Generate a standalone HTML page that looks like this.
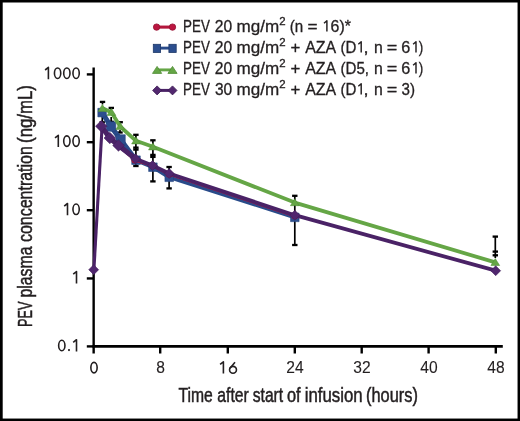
<!DOCTYPE html>
<html><head><meta charset="utf-8"><style>
html,body{margin:0;padding:0;background:#fff;width:520px;height:421px;overflow:hidden}
svg{display:block;will-change:transform}
text{font-family:"Liberation Sans",sans-serif;fill:#231f20;stroke:#231f20;stroke-width:0.3px}
.t{stroke-width:0.5px}
.k{stroke-width:0.1px}
</style></head><body>
<svg width="520" height="421" viewBox="0 0 520 421">
<rect x="0" y="0" width="520" height="421" fill="#fff"/>
<!-- border -->
<rect x="0" y="0" width="520" height="2.5" fill="#000"/>
<rect x="0" y="0" width="2.7" height="421" fill="#000"/>
<rect x="517.55" y="0" width="2.45" height="421" fill="#000"/>
<rect x="0" y="418.55" width="520" height="2.45" fill="#000"/>

<!-- axes -->
<g stroke="#000" stroke-width="2.4" fill="none" stroke-linecap="butt">
<line x1="93.65" y1="67.4" x2="93.65" y2="353.5"/>
<line x1="92.5" y1="346.4" x2="502.8" y2="346.4" stroke-width="2.7"/>
<line x1="86.8" y1="74.4" x2="93.65" y2="74.4"/>
<line x1="86.8" y1="142.2" x2="93.65" y2="142.2"/>
<line x1="86.8" y1="210.2" x2="93.65" y2="210.2"/>
<line x1="86.8" y1="278.45" x2="93.65" y2="278.45"/>
<line x1="86.8" y1="346.4" x2="93.65" y2="346.4"/>
<line x1="160.2" y1="346.4" x2="160.2" y2="353.5"/>
<line x1="227.8" y1="346.4" x2="227.8" y2="353.5"/>
<line x1="294.8" y1="346.4" x2="294.8" y2="353.5"/>
<line x1="361.7" y1="346.4" x2="361.7" y2="353.5"/>
<line x1="428.6" y1="346.4" x2="428.6" y2="353.5"/>
<line x1="495.8" y1="346.4" x2="495.8" y2="353.5"/>
</g>

<!-- y tick labels -->
<g fill="none" stroke="#231f20" stroke-width="1.6" stroke-linejoin="round">
<path d="M48.40,79.20V67.40L45.10,70.00"/>
<ellipse cx="57.60" cy="73.20" rx="3.15" ry="5.25"/>
<ellipse cx="66.85" cy="73.20" rx="3.15" ry="5.25"/>
<ellipse cx="76.10" cy="73.20" rx="3.15" ry="5.25"/>
<path d="M58.30,147.10V135.30L55.00,137.90"/>
<ellipse cx="66.85" cy="141.10" rx="3.15" ry="5.25"/>
<ellipse cx="76.10" cy="141.10" rx="3.15" ry="5.25"/>
<path d="M67.50,215.30V203.50L64.20,206.10"/>
<ellipse cx="76.10" cy="209.30" rx="3.15" ry="5.25"/>
<path d="M76.50,283.40V271.60L73.20,274.20"/>
<ellipse cx="61.80" cy="345.50" rx="3.15" ry="5.25"/>
<path d="M76.50,351.50V339.70L73.20,342.30"/>
</g>
<circle cx="69" cy="350.1" r="1.05" fill="#231f20"/>
<!-- x tick labels -->
<g fill="none" stroke="#231f20" stroke-width="1.6" stroke-linejoin="round">
<ellipse cx="94.00" cy="367.60" rx="3.15" ry="5.25"/>
<path d="M223.40,373.60V361.80L220.10,364.40"/>
<circle cx="233.0" cy="369.80" r="3.45"/>
<path d="M235.0,362.20L230.0,368.20"/>
</g>
<g font-size="15.6" text-anchor="middle">
<text class="k" x="160.7" y="373.3">8</text>
<text class="k" x="295" y="373.3">24</text>
<text class="k" x="362" y="373.3">32</text>
<text class="k" x="429" y="373.3">40</text>
<text class="k" x="496" y="373.3">48</text>
</g>

<!-- axis titles -->
<!-- xtitle -->
<text class="t" x="178.54" y="401.6" font-size="20" textLength="34.33" lengthAdjust="spacingAndGlyphs">Time</text>
<text class="t" x="217.35" y="401.6" font-size="20" textLength="31.45" lengthAdjust="spacingAndGlyphs">after</text>
<text class="t" x="252.68" y="401.6" font-size="20" textLength="30.52" lengthAdjust="spacingAndGlyphs">start</text>
<text class="t" x="286.94" y="401.6" font-size="20" textLength="13.65" lengthAdjust="spacingAndGlyphs">of</text>
<text class="t" x="304.74" y="401.6" font-size="20" textLength="57.97" lengthAdjust="spacingAndGlyphs">infusion</text>
<text class="t" x="366.00" y="401.6" font-size="20" textLength="51.86" lengthAdjust="spacingAndGlyphs">(hours)</text>
<!-- /xtitle -->
<!-- ytitle -->
<text class="t" transform="translate(32,326.92) rotate(-90)" font-size="20" textLength="25.53" lengthAdjust="spacingAndGlyphs">PEV</text>
<text class="t" transform="translate(32,297.55) rotate(-90)" font-size="20" textLength="51.05" lengthAdjust="spacingAndGlyphs">plasma</text>
<text class="t" transform="translate(32,242.04) rotate(-90)" font-size="20" textLength="95.88" lengthAdjust="spacingAndGlyphs">concentration</text>
<text class="t" transform="translate(32,142.91) rotate(-90)" font-size="20" textLength="57.72" lengthAdjust="spacingAndGlyphs">(ng/mL)</text>
<!-- /ytitle -->

<!-- legend -->
<g font-size="15.8">
<text x="183.08" y="31.50" textLength="26.83" lengthAdjust="spacingAndGlyphs">PEV</text>
<text x="214.81" y="31.50" textLength="17.36" lengthAdjust="spacingAndGlyphs">20</text>
<text x="236.62" y="31.50" textLength="42.66" lengthAdjust="spacingAndGlyphs">mg/m</text>
<text x="279.18" y="25.30" font-size="11" textLength="6.36" lengthAdjust="spacingAndGlyphs">2</text>
<text x="289.74" y="31.50" textLength="13.47" lengthAdjust="spacingAndGlyphs">(n</text>
<text x="307.44" y="31.50" textLength="10.05" lengthAdjust="spacingAndGlyphs">=</text>
<text x="330.60" y="31.50" textLength="20.30" lengthAdjust="spacingAndGlyphs">6)*</text>
<text x="183.08" y="52.60" textLength="26.83" lengthAdjust="spacingAndGlyphs">PEV</text>
<text x="214.81" y="52.60" textLength="17.36" lengthAdjust="spacingAndGlyphs">20</text>
<text x="236.62" y="52.60" textLength="42.66" lengthAdjust="spacingAndGlyphs">mg/m</text>
<text x="279.18" y="46.40" font-size="11" textLength="6.36" lengthAdjust="spacingAndGlyphs">2</text>
<text x="290.56" y="52.60" textLength="9.82" lengthAdjust="spacingAndGlyphs">+</text>
<text x="305.20" y="52.60" textLength="31.03" lengthAdjust="spacingAndGlyphs">AZA</text>
<text x="340.44" y="52.60" textLength="15.90" lengthAdjust="spacingAndGlyphs">(D</text>
<text x="363.62" y="52.60" textLength="5.05" lengthAdjust="spacingAndGlyphs">,</text>
<text x="374.00" y="52.60" textLength="8.79" lengthAdjust="spacingAndGlyphs">n</text>
<text x="386.70" y="52.60" textLength="10.53" lengthAdjust="spacingAndGlyphs">=</text>
<text x="401.28" y="52.60" textLength="9.03" lengthAdjust="spacingAndGlyphs">6</text>
<text x="418.81" y="52.60" textLength="4.51" lengthAdjust="spacingAndGlyphs">)</text>
<text x="183.08" y="73.60" textLength="26.83" lengthAdjust="spacingAndGlyphs">PEV</text>
<text x="214.81" y="73.60" textLength="17.36" lengthAdjust="spacingAndGlyphs">20</text>
<text x="236.62" y="73.60" textLength="42.66" lengthAdjust="spacingAndGlyphs">mg/m</text>
<text x="279.18" y="67.40" font-size="11" textLength="6.36" lengthAdjust="spacingAndGlyphs">2</text>
<text x="290.56" y="73.60" textLength="9.82" lengthAdjust="spacingAndGlyphs">+</text>
<text x="305.20" y="73.60" textLength="31.03" lengthAdjust="spacingAndGlyphs">AZA</text>
<text x="340.44" y="73.60" textLength="28.55" lengthAdjust="spacingAndGlyphs">(D5,</text>
<text x="374.00" y="73.60" textLength="8.79" lengthAdjust="spacingAndGlyphs">n</text>
<text x="386.70" y="73.60" textLength="10.53" lengthAdjust="spacingAndGlyphs">=</text>
<text x="401.28" y="73.60" textLength="9.03" lengthAdjust="spacingAndGlyphs">6</text>
<text x="418.81" y="73.60" textLength="4.51" lengthAdjust="spacingAndGlyphs">)</text>
<text x="183.08" y="94.60" textLength="26.83" lengthAdjust="spacingAndGlyphs">PEV</text>
<text x="214.91" y="94.60" textLength="17.25" lengthAdjust="spacingAndGlyphs">30</text>
<text x="236.62" y="94.60" textLength="42.66" lengthAdjust="spacingAndGlyphs">mg/m</text>
<text x="279.18" y="88.40" font-size="11" textLength="6.36" lengthAdjust="spacingAndGlyphs">2</text>
<text x="290.56" y="94.60" textLength="9.82" lengthAdjust="spacingAndGlyphs">+</text>
<text x="305.20" y="94.60" textLength="31.03" lengthAdjust="spacingAndGlyphs">AZA</text>
<text x="340.44" y="94.60" textLength="15.90" lengthAdjust="spacingAndGlyphs">(D</text>
<text x="363.62" y="94.60" textLength="5.05" lengthAdjust="spacingAndGlyphs">,</text>
<text x="374.00" y="94.60" textLength="8.79" lengthAdjust="spacingAndGlyphs">n</text>
<text x="386.70" y="94.60" textLength="10.53" lengthAdjust="spacingAndGlyphs">=</text>
<text x="401.52" y="94.60" textLength="13.49" lengthAdjust="spacingAndGlyphs">3)</text>
</g>
<path fill="none" stroke="#231f20" stroke-width="1.45" stroke-linejoin="round" d="M326.90,31.50V20.70L324.00,23.20 M361.20,52.60V41.80L358.30,44.30 M416.00,52.60V41.80L413.10,44.30 M416.00,73.60V62.80L413.10,65.30 M361.20,94.60V83.80L358.30,86.30"/>
<!-- legend markers -->
<g>
<line x1="156.6" y1="27.1" x2="172.5" y2="27.1" stroke="#b3163c" stroke-width="3.1"/>
<circle cx="156.6" cy="27.1" r="3.2" fill="#bb1640" stroke="#951232" stroke-width="0.8"/>
<circle cx="172.5" cy="27.1" r="3.2" fill="#bb1640" stroke="#951232" stroke-width="0.8"/>

<line x1="157" y1="48.1" x2="172.5" y2="48.1" stroke="#294b8a" stroke-width="2.9"/>
<rect x="153.3" y="44.3" width="7.3" height="8.2" fill="#2c4e8e" stroke="#1e3868" stroke-width="0.8"/>
<rect x="168.9" y="44.3" width="7.3" height="8.2" fill="#2c4e8e" stroke="#1e3868" stroke-width="0.8"/>

<line x1="157" y1="69.9" x2="172.5" y2="69.9" stroke="#65a646" stroke-width="2.9"/>
<polygon points="157.1,66.4 161.7,73.4 152.5,73.4" fill="#65a646" stroke="#4f8c34" stroke-width="0.8" stroke-linejoin="round"/>
<polygon points="172.5,66.4 177.1,73.4 167.9,73.4" fill="#65a646" stroke="#4f8c34" stroke-width="0.8" stroke-linejoin="round"/>

<line x1="157" y1="90.4" x2="172.5" y2="90.4" stroke="#4a2266" stroke-width="3"/>
<polygon points="157.1,85.9 161.6,90.4 157.1,94.9 152.6,90.4" fill="#52286f" stroke="#3a1a52" stroke-width="0.8" stroke-linejoin="round"/>
<polygon points="172.5,85.9 177,90.4 172.5,94.9 168,90.4" fill="#52286f" stroke="#3a1a52" stroke-width="0.8" stroke-linejoin="round"/>
</g>

<!-- error bars -->
<g stroke="#000" stroke-width="1.7" fill="none">
<line x1="102.5" y1="101.9" x2="102.5" y2="104.5"/>
<line x1="102.3" y1="116" x2="102.3" y2="122.3"/>
<line x1="111.3" y1="107.9" x2="111.3" y2="110.5"/>
<line x1="111.2" y1="117" x2="111.2" y2="122.8"/>
<line x1="120.2" y1="122.2" x2="120.2" y2="124.5"/>
<line x1="120" y1="130" x2="120" y2="132.5"/>
<line x1="135.9" y1="134.8" x2="135.9" y2="166.0"/>
<line x1="152.9" y1="140.3" x2="152.9" y2="181.4"/>
<line x1="169.1" y1="167.0" x2="169.1" y2="188.4"/>
<line x1="294.8" y1="195.8" x2="294.8" y2="245"/>
<line x1="495.3" y1="236.6" x2="495.3" y2="258"/>
</g><g stroke="#000" stroke-width="2.3" fill="none">
<line x1="99.8" y1="101.9" x2="105.2" y2="101.9"/>
<line x1="99.5" y1="122.3" x2="104.9" y2="122.3"/>
<line x1="108.6" y1="107.9" x2="114.0" y2="107.9"/>
<line x1="108.5" y1="121.8" x2="113.9" y2="121.8"/>
<line x1="117.5" y1="122.2" x2="122.9" y2="122.2"/>
<line x1="117.3" y1="132.5" x2="122.7" y2="132.5"/>
<line x1="133.2" y1="134.8" x2="138.6" y2="134.8"/>
<line x1="133.2" y1="147.6" x2="138.6" y2="147.6"/>
<line x1="133.2" y1="149.6" x2="138.6" y2="149.6"/>
<line x1="133.2" y1="166.0" x2="138.6" y2="166.0"/>
<line x1="150.2" y1="140.3" x2="155.6" y2="140.3"/>
<line x1="150.2" y1="154.9" x2="155.6" y2="154.9"/>
<line x1="150.2" y1="156.9" x2="155.6" y2="156.9"/>
<line x1="150.2" y1="181.4" x2="155.6" y2="181.4"/>
<line x1="166.4" y1="167.0" x2="171.8" y2="167.0"/>
<line x1="166.4" y1="188.4" x2="171.8" y2="188.4"/>
<line x1="292.1" y1="195.8" x2="297.5" y2="195.8"/>
<line x1="292.1" y1="245" x2="297.5" y2="245"/>
<line x1="492.6" y1="236.6" x2="498.0" y2="236.6"/>
<line x1="492.6" y1="251.6" x2="498.0" y2="251.6"/>
<line x1="492.6" y1="255.3" x2="498.0" y2="255.3"/>
</g>
<!-- blue -->
<polyline fill="none" stroke="#294b8a" stroke-width="3.8" stroke-linejoin="round" points="102.1,112.6 111,126.5 120.5,139.5 136,160.2 152.9,167.2 169.2,177.3 294.8,217.4"/>
<polyline fill="none" stroke="#294b8a" stroke-width="5" stroke-linejoin="round" points="102.1,112.6 111,126.5 120.5,139.5 136,160.2"/>
<g fill="#2c4e8e" stroke="#22407a" stroke-width="0.5" stroke-linejoin="round">
<rect x="97.8" y="108.3" width="8.6" height="8.6"/>
<rect x="106.2" y="121.7" width="9.6" height="9.6"/>
<rect x="115.7" y="134.7" width="9.6" height="9.6"/>
<rect x="131.7" y="155.9" width="8.6" height="8.6"/>
<rect x="148.6" y="162.9" width="8.6" height="8.6"/>
<rect x="164.9" y="173.0" width="8.6" height="8.6"/>
<rect x="290.5" y="213.1" width="8.6" height="8.6"/>
</g>
<!-- red -->
<polyline fill="none" stroke="#b3163c" stroke-width="3.0" stroke-linejoin="round" points="101.5,126.5 109.8,138.3 118.5,145.5 134.8,160 152.5,165.5 169.2,174.2 294.8,215.9"/>
<g fill="#bb1640" stroke="#951232" stroke-width="0.5" stroke-linejoin="round">
<circle cx="101.5" cy="126.5" r="3.2"/>
<circle cx="109.8" cy="138.3" r="3.2"/>
<circle cx="118.5" cy="145.5" r="3.2"/>
<circle cx="134.8" cy="160" r="3.2"/>
<circle cx="152.5" cy="165.5" r="3.2"/>
<circle cx="169.2" cy="174.2" r="3.2"/>
<circle cx="294.8" cy="215.9" r="3.2"/>
</g>
<!-- green -->
<polyline fill="none" stroke="#65a646" stroke-width="3.8" stroke-linejoin="round" points="102.4,108.3 111.4,112.3 120.2,126.5 136,140.8 152.9,146.8 294.8,202.6 495.3,262.4"/>
<g fill="#65a646" stroke="#4f8c34" stroke-width="0.5" stroke-linejoin="round">
<polygon points="102.4,104.4 106.8,111.4 98.0,111.4"/>
<polygon points="111.4,108.4 115.8,115.4 107.0,115.4"/>
<polygon points="120.2,122.6 124.6,129.6 115.8,129.6"/>
<polygon points="136,136.9 140.4,143.9 131.6,143.9"/>
<polygon points="152.9,142.9 157.3,149.9 148.5,149.9"/>
<polygon points="294.8,198.7 299.2,205.7 290.4,205.7"/>
<polygon points="495.3,258.5 499.7,265.5 490.9,265.5"/>
</g>
<!-- purple -->
<line x1="93.9" y1="269.7" x2="102.1" y2="126.2" stroke="#4a2266" stroke-width="3.1"/>
<polyline fill="none" stroke="#4a2266" stroke-width="3.8" stroke-linejoin="round" points="101.3,126.2 109.8,138 118.5,145.5 135.5,158.8 152.5,165.5 169.2,173.5 294.8,215.2 495.7,270.7"/>
<polyline fill="none" stroke="#4a2266" stroke-width="5" stroke-linejoin="round" points="101.3,126.2 109.8,138 118.5,145.5 135.5,158.8"/>
<g fill="#50266e" stroke="#3e1c56" stroke-width="0.5" stroke-linejoin="round">
<polygon points="93.7,264.7 98.7,269.7 93.7,274.7 88.7,269.7"/>
<polygon points="101.3,120.4 107.1,126.2 101.3,132.0 95.5,126.2"/>
<polygon points="109.8,132.2 115.6,138 109.8,143.8 104.0,138"/>
<polygon points="118.5,139.7 124.3,145.5 118.5,151.3 112.7,145.5"/>
<polygon points="135.5,153.8 140.5,158.8 135.5,163.8 130.5,158.8"/>
<polygon points="152.5,160.5 157.5,165.5 152.5,170.5 147.5,165.5"/>
<polygon points="169.2,168.5 174.2,173.5 169.2,178.5 164.2,173.5"/>
<polygon points="294.8,210.2 299.8,215.2 294.8,220.2 289.8,215.2"/>
<polygon points="495.7,265.7 500.7,270.7 495.7,275.7 490.7,270.7"/>
</g>
</svg>
</body></html>
